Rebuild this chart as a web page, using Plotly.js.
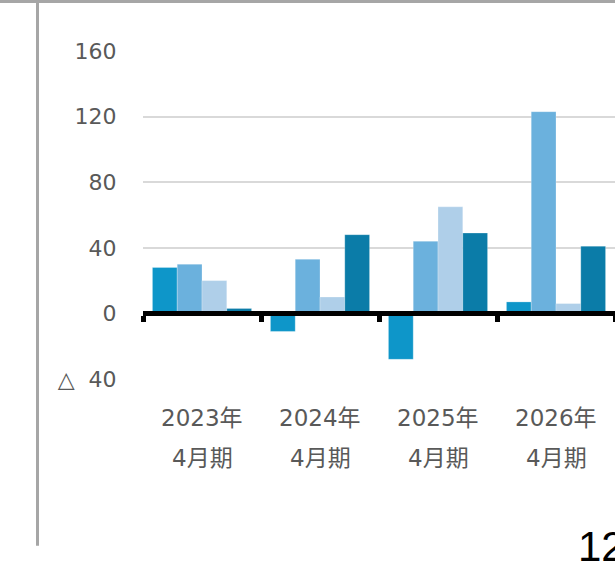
<!DOCTYPE html>
<html>
<head>
<meta charset="utf-8">
<script src="https://cdn.plot.ly/plotly-3.0.1.min.js"></script>
<style>html,body{margin:0;padding:0;background:#fff;overflow:hidden}</style>
</head>
<body>
<div id="chart" style="width:615px;height:562px"></div>
<script>
const categories = ['2023年4月期', '2024年4月期', '2025年4月期', '2026年4月期'];
const yearLabels = ['2023年', '2024年', '2025年', '2026年'];
const periodLabels = ['4月期', '4月期', '4月期', '4月期'];
const series1 = [28, -11, -28, 7];
const series2 = [30, 33, 44, 123];
const series3 = [20, 10, 65, 6];
const series4 = [3, 48, 49, 41];
const tickValues = [-40, 0, 40, 80, 120, 160];
const tickLabels = ['△\u00a0\u00a040', '0', '40', '80', '120', '160'];
const pageNumber = '12';

const colors = ['#0e96c9', '#6bb1dd', '#afcfe9', '#0b7ca8'];
const allSeries = [series1, series2, series3, series4];
const textColor = '#595959';
const jpFont = '"DejaVu Sans", "Noto Sans CJK JP", sans-serif';

const traces = allSeries.map((vals, i) => ({
  type: 'bar',
  x: categories,
  y: vals,
  marker: {color: colors[i], line: {color: 'rgba(255,255,255,0.5)', width: 0.5}},
  hoverinfo: 'none'
}));

const W = 615, H = 562, L = 143, R = 0, T = 51, B = 183;
const pw = W - L - R, ph = H - T - B;
const px2x = p => (p - L) / pw;
const px2y = p => (H - B - p) / ph;
const yRange = [-40, 160];
const zeroPos = (0 - yRange[0]) / (yRange[1] - yRange[0]);

const annotations = [];
categories.forEach((c, i) => {
  annotations.push({x: c, xref: 'x', y: px2y(417.5), yref: 'paper', yanchor: 'middle',
    text: yearLabels[i], showarrow: false, font: {family: jpFont, size: 23, color: textColor}});
  annotations.push({x: c, xref: 'x', y: px2y(457.5), yref: 'paper', yanchor: 'middle',
    text: periodLabels[i], showarrow: false, font: {family: jpFont, size: 23, color: textColor}});
});
annotations.push({x: px2x(576), xref: 'paper', xanchor: 'left', y: px2y(521), yref: 'paper', yanchor: 'top',
  text: pageNumber, showarrow: false, font: {family: '"Liberation Sans", Arial, sans-serif', size: 42, color: '#000'}});

const layout = {
  width: W, height: H,
  margin: {l: L, r: R, t: T, b: B, pad: 0},
  paper_bgcolor: '#fff', plot_bgcolor: '#fff',
  showlegend: false,
  barmode: 'group',
  bargap: 0.16,
  bargroupgap: 0,
  xaxis: {
    type: 'category',
    categoryorder: 'array', categoryarray: categories,
    anchor: 'free', position: zeroPos,
    showline: true, linecolor: '#000', linewidth: 5,
    ticks: 'outside', tickson: 'boundaries', ticklen: 6, tickwidth: 5, tickcolor: '#000',
    showticklabels: false, showgrid: false, zeroline: false, fixedrange: true
  },
  yaxis: {
    range: yRange,
    tickvals: tickValues, ticktext: tickLabels,
    ticks: 'outside', ticklen: 21, tickcolor: 'rgba(0,0,0,0)',
    tickfont: {family: jpFont, size: 22, color: textColor},
    showgrid: true, gridcolor: '#d9d9d9', gridwidth: 2,
    zeroline: false, showline: false, fixedrange: true
  },
  shapes: [
    {type: 'line', xref: 'paper', yref: 'paper', x0: px2x(-2), x1: px2x(W + 2), y0: px2y(1.5), y1: px2y(1.5),
      line: {color: '#a6a6a6', width: 3}},
    {type: 'line', xref: 'paper', yref: 'paper', x0: px2x(37.5), x1: px2x(37.5), y0: px2y(0), y1: px2y(545.7),
      line: {color: '#a6a6a6', width: 3}}
  ],
  annotations: annotations
};

Plotly.newPlot('chart', traces, layout, {displayModeBar: false, staticPlot: true});
</script>
</body>
</html>
